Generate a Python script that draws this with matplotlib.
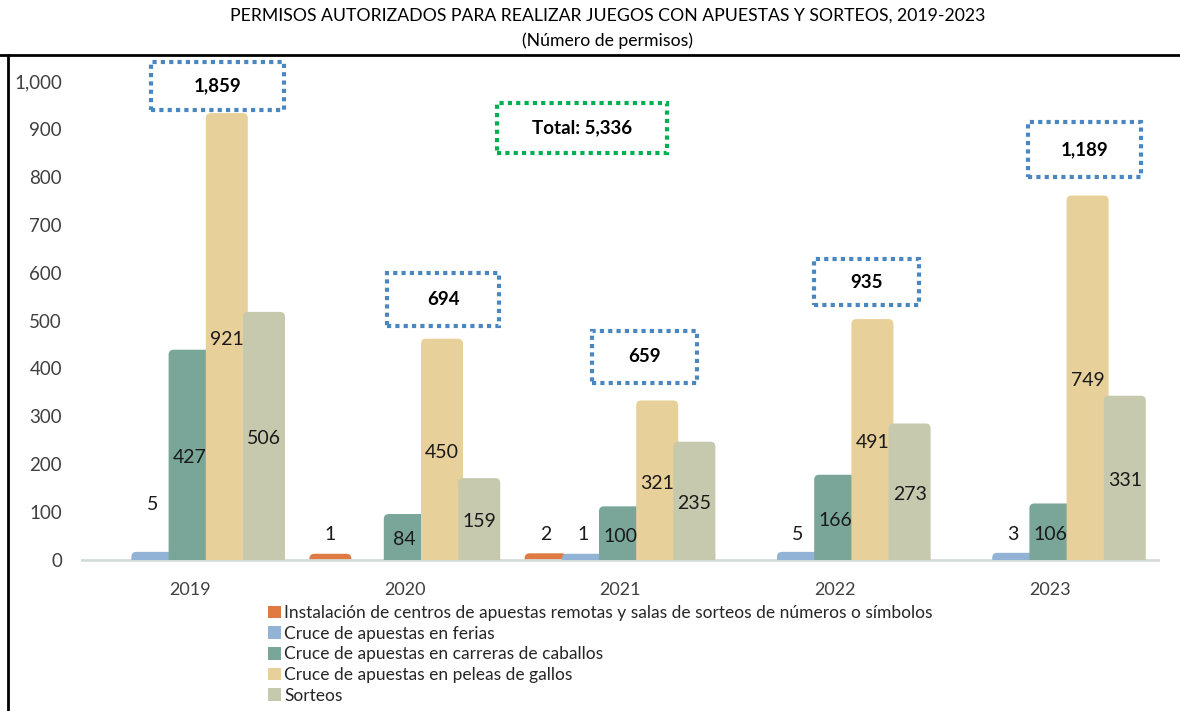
import numpy as np
import matplotlib
matplotlib.use('Agg')
import matplotlib.pyplot as plt
from matplotlib.patches import FancyBboxPatch, Rectangle, Patch
from matplotlib.lines import Line2D

plt.rcParams['font.family'] = ['Lato', 'DejaVu Sans']

years = ['2019', '2020', '2021', '2022', '2023']
series = ['Instalación de centros de apuestas remotas y salas de sorteos de números o símbolos',
          'Cruce de apuestas en ferias',
          'Cruce de apuestas en carreras de caballos',
          'Cruce de apuestas en peleas de gallos',
          'Sorteos']
remotas = [0, 1, 2, 0, 0]
ferias = [5, 0, 1, 5, 3]
caballos = [427, 84, 100, 166, 106]
gallos = [921, 450, 321, 491, 749]
sorteos = [506, 159, 235, 273, 331]
colors = ['#DF7A42', '#92B3D5', '#79A698', '#E8D09A', '#C6C9AD']

values = [remotas, ferias, caballos, gallos, sorteos]
totals = [sum(v[i] for v in values) for i in range(len(years))]
grand_total = sum(totals)

# layout (pixel based, fig is 1180x711 @ 100 dpi)
W, H = 1180, 711
px_x = 1076 / 5        # px per category
px_y = 0.479           # px per unit
fig = plt.figure(figsize=(W / 100, H / 100), dpi=100)
ax = fig.add_axes([82 / W, (H - 560) / H, 1076 / W, 502 / H])
ax.set_xlim(-0.5, 4.5)
ax.set_ylim(0, 502 / px_y)

slot = 37.2 / px_x
bw = 42 / px_x
cap = 12            # 3d top face
rx = 5 / px_x
asp = (5 / px_y) / rx
x = np.arange(len(years))

for k, (vals, c) in enumerate(zip(values, colors)):
    for i, v in enumerate(vals):
        if v == 0:
            continue
        xc = x[i] + (k - 2) * slot
        p = FancyBboxPatch((xc - bw / 2, -15), bw, v + cap + 15,
                           boxstyle='round,pad=0,rounding_size=%f' % rx,
                           mutation_aspect=asp, fc=c, ec='none', zorder=2 + k)
        ax.add_patch(p)
        if v >= 50:
            ly = v / 2
        else:
            ly = 115 if i == 0 else 54
        ax.text(xc, ly, str(v), ha='center', va='center', fontsize=14,
                color='#1a1a1a', zorder=10)

# total boxes: (x offset, y centre, w px, h px)
box_pos = [(0.128, 990, 133, 48), (0.179, 544, 112, 53), (0.115, 424, 105, 52),
           (0.145, 580, 105, 46), (0.157, 857, 113, 55)]
for i, (dx, yc, bwpx, bhpx) in enumerate(box_pos):
    w = bwpx / px_x
    h = bhpx / px_y
    ax.add_patch(Rectangle((x[i] + dx - w / 2, yc - h / 2), w, h, fill=False,
                           ec='#4A86C0', lw=3, ls=(0, (1, 1)), zorder=12,
                           clip_on=False))
    ax.text(x[i] + dx, yc, '{:,}'.format(totals[i]), ha='center', va='center',
            fontsize=13.5, fontweight='bold', zorder=13)

w = 170 / px_x
h = 50 / px_y
ax.add_patch(Rectangle((1.8245 - w / 2, 902 - h / 2), w, h, fill=False,
                       ec='#00B050', lw=3, ls=(0, (1, 1)), zorder=12))
ax.text(1.8245, 902, 'Total: {:,}'.format(grand_total), ha='center', va='center',
        fontsize=13.5, fontweight='bold', zorder=13)

ax.set_yticks(np.arange(0, 1001, 100))
ax.set_yticklabels(['{:,}'.format(t) for t in range(0, 1001, 100)])
ax.set_xticks(x)
ax.set_xticklabels(years)
ax.tick_params(axis='y', length=0, pad=14.4, labelsize=13.5, labelcolor='#404040')
ax.tick_params(axis='x', length=0, pad=16, labelsize=13, labelcolor='#404040')
for s in ['top', 'right', 'left']:
    ax.spines[s].set_visible(False)
ax.spines['bottom'].set_color('#D5DBDB')
ax.spines['bottom'].set_linewidth(2)

handles = [Patch(fc=c, ec='none') for c in colors]
fig.legend(handles, series, loc='upper left', bbox_to_anchor=(268 / W, 1 - 605 / H),
           frameon=False, fontsize=12.5, handlelength=0.75, handleheight=0.75,
           handletextpad=0.2, labelspacing=0.27, borderpad=0, borderaxespad=0,
           labelcolor='#262626')

fig.text(608 / W, 1 - 16 / H, 'PERMISOS AUTORIZADOS PARA REALIZAR JUEGOS CON APUESTAS Y SORTEOS, 2019-2023',
         ha='center', va='center', fontsize=12.7)
fig.text(608 / W, 1 - 41 / H, '(Número de permisos)', ha='center', va='center', fontsize=12.7)

fig.add_artist(Line2D([0, 1], [1 - 55 / H, 1 - 55 / H], color='black', lw=2))
fig.add_artist(Line2D([8 / W, 8 / W], [0, 1 - 55 / H], color='black', lw=2))

fig.savefig('out.png', dpi=100)
